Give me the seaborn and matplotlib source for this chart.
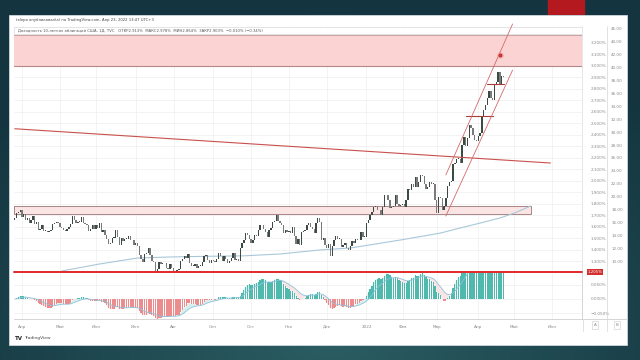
import numpy as np
import pandas as pd
import matplotlib
matplotlib.use('Agg')
import matplotlib.pyplot as plt
import matplotlib.transforms as mtrans
from matplotlib.patches import Rectangle
from matplotlib.lines import Line2D
import seaborn as sns

# ---------------- data ----------------
holidays = ['2021-04-02', '2021-05-31', '2021-07-05', '2021-09-06', '2021-11-25',
            '2021-12-24', '2022-01-17', '2022-02-21', '2022-04-15', '2022-05-30']
first_day = '2021-03-26'
axis_end = '2022-06-30'
first_open = 1.66

closes_2021_03 = [1.67, 1.72, 1.73, 1.74]
closes_2021_04 = [1.68, 1.71, 1.66, 1.67, 1.63, 1.66, 1.69, 1.62, 1.64, 1.57, 1.58,
                  1.61, 1.56, 1.56, 1.55, 1.56, 1.57, 1.62, 1.63, 1.64, 1.63]
closes_2021_05 = [1.60, 1.59, 1.57, 1.56, 1.58, 1.60, 1.62, 1.69, 1.66, 1.63,
                  1.64, 1.64, 1.68, 1.63, 1.62, 1.61, 1.56, 1.58, 1.61, 1.58]
closes_2021_06 = [1.61, 1.59, 1.63, 1.55, 1.57, 1.53, 1.49, 1.45, 1.46, 1.50, 1.50,
                  1.57, 1.51, 1.44, 1.50, 1.47, 1.49, 1.49, 1.52, 1.48, 1.48, 1.44]
closes_2021_07 = [1.46, 1.43, 1.35, 1.32, 1.29, 1.36, 1.37, 1.41, 1.35, 1.30, 1.29,
                  1.21, 1.23, 1.29, 1.27, 1.28, 1.28, 1.24, 1.23, 1.27, 1.24]
closes_2021_08 = [1.21, 1.21, 1.22, 1.23, 1.30, 1.32, 1.34, 1.33, 1.36, 1.28, 1.26,
                  1.26, 1.27, 1.24, 1.26, 1.26, 1.29, 1.34, 1.35, 1.31, 1.28, 1.31]
closes_2021_09 = [1.30, 1.29, 1.32, 1.37, 1.34, 1.30, 1.34, 1.32, 1.28, 1.30, 1.33,
                  1.37, 1.31, 1.32, 1.30, 1.41, 1.46, 1.48, 1.54, 1.53, 1.49]
closes_2021_10 = [1.46, 1.48, 1.53, 1.52, 1.57, 1.61, 1.61, 1.58, 1.55, 1.51, 1.57,
                  1.59, 1.64, 1.65, 1.70, 1.65, 1.63, 1.61, 1.54, 1.57, 1.55]
closes_2021_11 = [1.56, 1.54, 1.60, 1.52, 1.45, 1.49, 1.44, 1.55, 1.56, 1.57, 1.61,
                  1.63, 1.60, 1.58, 1.54, 1.63, 1.67, 1.64, 1.48, 1.50, 1.44]
closes_2021_12 = [1.41, 1.45, 1.34, 1.43, 1.48, 1.52, 1.49, 1.49, 1.42, 1.44, 1.46,
                  1.41, 1.40, 1.43, 1.47, 1.46, 1.49, 1.48, 1.48, 1.55, 1.51, 1.51]
closes_2022_01 = [1.63, 1.66, 1.70, 1.73, 1.77, 1.78, 1.74, 1.74, 1.70, 1.77,
                  1.87, 1.87, 1.83, 1.76, 1.77, 1.78, 1.87, 1.80, 1.78, 1.79]
closes_2022_02 = [1.80, 1.77, 1.83, 1.93, 1.92, 1.97, 1.94, 2.03, 1.94, 1.99,
                  2.05, 2.04, 1.97, 1.93, 1.94, 1.99, 1.97, 1.97, 1.83]
closes_2022_03 = [1.72, 1.86, 1.85, 1.74, 1.78, 1.85, 1.95, 1.99, 2.00, 2.14, 2.15, 2.19,
                  2.19, 2.15, 2.31, 2.38, 2.30, 2.37, 2.48, 2.46, 2.40, 2.35, 2.34]
closes_2022_04 = [2.39, 2.41, 2.55, 2.61, 2.66, 2.72, 2.78, 2.72, 2.70, 2.83,
                  2.86, 2.94, 2.84, 2.91, 2.90]

closes = (closes_2021_03 + closes_2021_04 + closes_2021_05 + closes_2021_06 +
          closes_2021_07 + closes_2021_08 + closes_2021_09 + closes_2021_10 +
          closes_2021_11 + closes_2021_12 + closes_2022_01 + closes_2022_02 +
          closes_2022_03 + closes_2022_04)

ma_dates = ['2021-05-04', '2021-06-03', '2021-07-02', '2021-07-29', '2021-08-23',
            '2021-09-27', '2021-10-25', '2021-11-24', '2021-12-20', '2022-01-31',
            '2022-03-03', '2022-03-18', '2022-04-04', '2022-04-20', '2022-05-02',
            '2022-05-13']
ma_values = [1.213, 1.274, 1.326, 1.335, 1.340, 1.345, 1.361, 1.396, 1.413, 1.483,
             1.543, 1.587, 1.630, 1.674, 1.717, 1.778]

zone_low, zone_high = 3.0, 3.265
support_low, support_high = 1.707, 1.78
support_end = '2022-05-13'
trend_dates = ['2021-03-26', '2022-05-31']
trend_values = [2.45, 2.152]
chan_dates = ['2022-03-08', '2022-04-29']
chan_up_values = [2.048, 3.361]
chan_lo_values = [1.691, 2.96]
hl1_dates = ['2022-03-23', '2022-04-13']
hl1_value = 2.561
hl2_dates = ['2022-04-08', '2022-04-22']
hl2_value = 2.839
alert_date = '2022-04-20'
alert_value = 3.09
red_level = 1.205

pct_ticks = [1.3, 1.4, 1.5, 1.6, 1.7, 1.8, 1.9, 2.0, 2.1, 2.2, 2.3, 2.4, 2.5, 2.6,
             2.7, 2.8, 2.9, 3.0, 3.1, 3.2]
b_ticks = [10, 12, 14, 16, 18, 20, 22, 24, 26, 28, 30, 32, 34, 36, 38, 40, 42, 44, 46]
macd_ticks = [-0.05, 0.0, 0.05]
month_names = ['2022', 'Фев', 'Мар', 'Апр', 'Май', 'Июн', 'Июл', 'Авг', 'Сен',
               'Окт', 'Ноя', 'Дек']

title_text = 'telepa опубликовал(а) на TradingView.com, Апр 23, 2022 13:47 UTC+3'
legend_text = ('Доходность 10-летних облигаций США, 1Д, TVC   ОТКР2.913%  МАКС2.978%  '
               'МИН2.864%  ЗАКР2.903%  −0.010% (−0.34%)')

# ---------------- setup ----------------
sns.set_theme(style='white')
plt.rcParams['font.family'] = ['DejaVu Sans']

W, H = 640, 360
fig = plt.figure(figsize=(6.4, 3.6), dpi=100)


def rect(x0, y0, x1, y1):
    return [x0 / W, 1 - y1 / H, (x1 - x0) / W, (y1 - y0) / H]


days = pd.bdate_range(first_day, axis_end, freq='C', holidays=holidays)


def ix(d):
    return days.get_loc(pd.Timestamp(d))


# background gradient
ax_bg = fig.add_axes([0, 0, 1, 1], zorder=-10)
yy, xx = np.mgrid[0:H, 0:W]
t = np.clip(np.sqrt(((xx - 330) / 430.0) ** 2 + ((yy - 330) / 320.0) ** 2), 0, 1)
c_center = np.array([0.17, 0.37, 0.39])
c_edge = np.array([0.08, 0.21, 0.25])
img = c_center[None, None, :] * (1 - t[..., None]) + c_edge[None, None, :] * t[..., None]
ax_bg.imshow(img, extent=[0, W, H, 0], aspect='auto')
ax_bg.set_xlim(0, W)
ax_bg.set_ylim(H, 0)
ax_bg.axis('off')
ax_bg.add_patch(Rectangle((548, 0), 36, 14, color='#b3191e'))
ax_bg.add_patch(Rectangle((9, 15), 618, 330, facecolor='white', edgecolor='#cfd8dc', lw=0.6))

grid_c = '#efefef'
lab_c = '#8a8a8a'
FS = 3.0

# month ticks
ser = days.to_series()
firsts = ser.groupby([days.year, days.month]).first()
tick_pos, tick_lab = [], []
for (yr, mo), d in firsts.items():
    if d.day <= 5:
        tick_pos.append(ix(d))
        tick_lab.append(month_names[mo - 1] if not (mo == 1) else str(yr))

xlim = (-0.5, 314.5)

# ---------------- price pane ----------------
ax_p = fig.add_axes(rect(13.9, 26, 582, 273))
ax_p.set_xlim(*xlim)
ax_p.set_ylim(1.1957, 3.3435)
ax_p.set_yticks(pct_ticks)
ax_p.set_yticklabels([f'{v:.3f}%' for v in pct_ticks])
ax_p.set_xticks(tick_pos)
ax_p.yaxis.tick_right()
ax_p.tick_params(axis='y', labelsize=FS, colors=lab_c, length=0, pad=6)
ax_p.tick_params(axis='x', labelbottom=False, length=0)
ax_p.grid(True, color=grid_c, lw=0.5)
for sp in ax_p.spines.values():
    sp.set_color('#dcdcdc')
    sp.set_linewidth(0.5)
ax_p.spines['left'].set_visible(False)
ax_p.spines['top'].set_visible(False)

# zone and support rectangle
ax_p.axhspan(zone_low, zone_high, fc='#fbd3d3', ec='none', zorder=0.6)
ax_p.axhline(zone_high, color='#c9a3a3', lw=0.7, zorder=0.7)
ax_p.axhline(zone_low, color='#b48888', lw=0.8, zorder=0.7)
x_sup0 = ix(first_day) - 0.5
ax_p.add_patch(Rectangle((x_sup0, support_low), ix(support_end) - x_sup0,
                         support_high - support_low, fc='#fbe4e4', ec='#9a7474',
                         lw=0.6, zorder=0.8))

# moving average
sns.lineplot(x=[ix(d) for d in ma_dates], y=ma_values, ax=ax_p, color='#a8c8da',
             linewidth=0.8, zorder=1)

# candles
opens = [first_open] + closes[:-1]
xs = np.arange(len(closes))
o = np.array(opens)
c = np.array(closes)
bottoms = np.minimum(o, c)
heights = np.maximum(np.abs(c - o), 0.007)
cols = np.where(c >= o, '#3b4a43', '#7a7a7a')
ax_p.bar(xs, heights, bottom=bottoms, width=0.75, color=cols, linewidth=0, zorder=2)

# drawings
ax_p.plot([ix(d) for d in trend_dates], trend_values, color='#c9504c', lw=0.8, zorder=3)
ax_p.plot([ix(d) for d in chan_dates], chan_up_values, color='#d26b6b', lw=0.6,
          zorder=5, clip_on=False)
ax_p.plot([ix(d) for d in chan_dates], chan_lo_values, color='#d26b6b', lw=0.6, zorder=5)
ax_p.plot([ix(d) for d in hl1_dates], [hl1_value, hl1_value], color='#a83a3a', lw=0.8, zorder=4)
ax_p.plot([ix(d) for d in hl2_dates], [hl2_value, hl2_value], color='#a83a3a', lw=0.8, zorder=4)
ax_p.scatter([ix(alert_date)], [alert_value], s=22, color='#f28b8b', alpha=0.5, lw=0, zorder=6)
ax_p.scatter([ix(alert_date)], [alert_value], s=5, color='#e53935', edgecolor='#8b1a1a',
             lw=0.4, zorder=7)
ax_p.axhline(red_level, color='#e02828', lw=1.4, zorder=6, clip_on=False)

# legend box inside pane
ax_p.add_patch(Rectangle((0.0, 0.9676), 1.0, 0.030, transform=ax_p.transAxes,
                         fc='white', ec='#d9d9d9', lw=0.5, zorder=4))
ax_p.text(0.0072, 0.9835, legend_text, transform=ax_p.transAxes, fontsize=2.7,
          color='#555555', va='center', ha='left', zorder=4.5)

trans_p = mtrans.blended_transform_factory(ax_p.transAxes, ax_p.transData)
ax_p.text((595 - 13.9) / 568.1, red_level, f'{red_level:.3f}%', transform=trans_p,
          fontsize=2.8, color='white', ha='center', va='center', zorder=8,
          bbox=dict(boxstyle='square,pad=0.25', fc='#d32f2f', ec='none'))

# B axis
ax_b = fig.add_axes(rect(607, 26, 627, 273))
ax_b.set_ylim(8.25, 46.54)
ax_b.axis('off')
trans_b = mtrans.blended_transform_factory(ax_b.transAxes, ax_b.transData)
for v in b_ticks:
    ax_b.text(0.5, v, f'{v:.2f}', transform=trans_b, fontsize=FS, color=lab_c,
              ha='center', va='center')

# ---------------- MACD pane ----------------
s = pd.Series(closes)
macd = s.ewm(span=12, adjust=False).mean() - s.ewm(span=26, adjust=False).mean()
signal = macd.ewm(span=9, adjust=False).mean()

ax_m = fig.add_axes(rect(13.9, 273, 582, 319))
ax_m.set_xlim(*xlim)
ax_m.set_ylim(-0.069, 0.0897)
ax_m.set_yticks(macd_ticks)
ax_m.set_yticklabels([f'{v:.3f}%'.replace('-', '−') for v in macd_ticks])
ax_m.yaxis.tick_right()
ax_m.tick_params(axis='y', labelsize=FS, colors=lab_c, length=0, pad=6)
ax_m.set_xticks(tick_pos)
ax_m.set_xticklabels(tick_lab)
ax_m.tick_params(axis='x', labelsize=FS, colors=lab_c, length=0, pad=4)
ax_m.grid(True, color=grid_c, lw=0.5)
for sp in ax_m.spines.values():
    sp.set_color('#cfcfcf')
    sp.set_linewidth(0.6)
ax_m.spines['left'].set_visible(False)
ax_m.spines['top'].set_visible(False)

m = macd.values
sg = signal.values
ax_m.fill_between(xs, m, sg, where=m >= sg, color='#bfe6e2', alpha=0.6, lw=0, zorder=1)
ax_m.fill_between(xs, m, sg, where=m < sg, color='#f7d4d4', alpha=0.6, lw=0, zorder=1)
ax_m.bar(xs, m, width=0.7, color=np.where(m >= 0, '#4fb9ae', '#ec8c8c'), linewidth=0, zorder=2)
sns.lineplot(x=xs, y=sg, ax=ax_m, color='#8fc1dc', linewidth=0.6, zorder=3)
ax_m.set_xlabel('')
ax_m.set_ylabel('')
ax_p.set_xlabel('')
ax_p.set_ylabel('')

# ---------------- frame texts ----------------
for x in (607,):
    fig.add_artist(Line2D([x / W, x / W], [1 - 331 / H, 1 - 26 / H], color='#d6d6d6', lw=0.5))
fig.add_artist(Line2D([583 / W, 583 / W], [1 - 331 / H, 1 - 319 / H], color='#d6d6d6', lw=0.5))
fig.add_artist(Line2D([583 / W, 627 / W], [1 - 319 / H, 1 - 319 / H], color='#cfcfcf', lw=0.6))
fig.text(595 / W, 1 - 325 / H, 'A', fontsize=3, color=lab_c, ha='center', va='center',
         bbox=dict(boxstyle='square,pad=0.4', fc='white', ec='#cccccc', lw=0.4))
fig.text(617 / W, 1 - 325 / H, 'B', fontsize=3, color=lab_c, ha='center', va='center',
         bbox=dict(boxstyle='square,pad=0.4', fc='white', ec='#cccccc', lw=0.4))
fig.text(16 / W, 1 - 20 / H, title_text, fontsize=2.7, color='#444444', ha='left', va='center')
fig.text(15 / W, 1 - 338 / H, 'TV', fontsize=4, fontweight='bold', color='#222222',
         ha='left', va='center')
fig.text(24 / W, 1 - 338 / H, 'TradingView', fontsize=3.2, color='#444444',
         ha='left', va='center')

fig.savefig('out.png', dpi=100)
